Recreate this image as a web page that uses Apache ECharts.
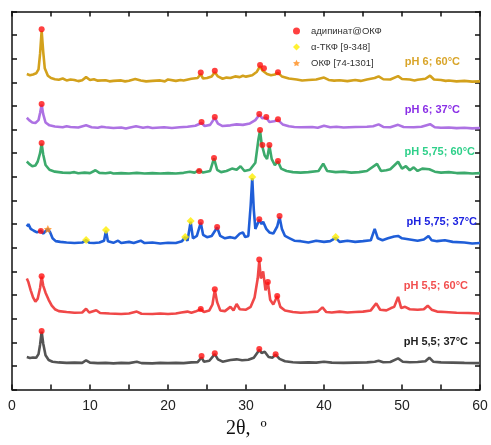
<!DOCTYPE html>
<html><head><meta charset="utf-8">
<script src="https://cdn.jsdelivr.net/npm/echarts@6/dist/echarts.min.js"></script>
<style>html,body{margin:0;padding:0;background:#fff}#c{width:491px;height:445px}</style>
</head><body><div id="c"></div>
<script>
// ---- data: [2θ, intensity (offset, a.u.)] ----
const pH6_60 = [[1.9,1335],[2.3,1330],[2.7,1333],[3.1,1338],[3.4,1355],[3.6,1420],[3.8,1518],[4.0,1430],[4.2,1360],[4.6,1328],[5.0,1318],[5.5,1313],[6,1311],[6.5,1316],[7,1308],[7.5,1312],[8,1310],[8.5,1305],[9,1309],[9.5,1322],[10,1310],[10.5,1313],[11,1307],[12,1309],[12.5,1304],[13,1306],[14,1308],[14.5,1304],[15,1307],[15.8,1314],[16.5,1308],[17.2,1304],[18,1306],[19,1308],[19.6,1304],[20,1312],[21,1306],[21.6,1310],[22,1308],[23,1315],[23.8,1318],[24.2,1335],[24.5,1316],[25,1318],[25.6,1325],[26.0,1343],[26.4,1325],[27,1315],[27.5,1320],[28,1318],[28.6,1325],[29.2,1322],[29.6,1328],[30,1324],[30.8,1330],[31.4,1345],[31.8,1368],[32.1,1350],[32.3,1355],[32.7,1335],[33.2,1330],[33.7,1333],[34.1,1340],[34.6,1325],[35.5,1316],[36.5,1312],[37.2,1308],[38,1310],[39,1312],[40,1320],[40.6,1310],[41.3,1307],[42,1309],[43,1305],[44,1310],[44.7,1306],[45.5,1312],[46.5,1318],[47,1325],[47.6,1313],[48.5,1312],[49.5,1326],[50,1314],[51,1312],[51.6,1308],[52,1311],[53,1315],[53.6,1328],[54.1,1312],[55,1310],[55.6,1306],[56,1308],[57,1304],[58,1306],[59,1303],[60,1304]];
const pH6_37 = [[1.9,1150],[2.2,1140],[2.6,1130],[3.0,1128],[3.4,1140],[3.6,1170],[3.8,1205],[4.0,1165],[4.3,1130],[4.8,1118],[5.5,1113],[6.5,1110],[7,1114],[7.5,1111],[8.5,1109],[9.5,1118],[10.2,1110],[11,1108],[11.5,1112],[12,1110],[13,1107],[14,1109],[14.6,1105],[15,1108],[15.9,1114],[16.8,1108],[17.4,1111],[18,1107],[19.5,1110],[20.5,1107],[21.5,1110],[22.5,1112],[23.5,1116],[24.3,1128],[24.7,1115],[25.4,1120],[26.0,1150],[26.4,1125],[27,1115],[28,1118],[28.8,1122],[29.6,1120],[30.5,1126],[31.2,1140],[31.7,1162],[32.1,1148],[32.6,1150],[33.0,1132],[33.6,1135],[34.1,1140],[34.7,1122],[35.5,1114],[36.2,1111],[37,1110],[38.5,1111],[39.2,1108],[40,1116],[40.8,1110],[41.6,1112],[42.5,1109],[44,1111],[45.5,1112],[46.3,1114],[47,1122],[47.6,1111],[48.5,1110],[49.5,1120],[50.2,1111],[51.5,1110],[52.5,1112],[53.6,1123],[54.2,1110],[55,1108],[56,1109],[57,1106],[58,1108],[59,1105],[60,1107]];
const pH575_60 = [[1.9,965],[2.2,955],[2.6,945],[3.0,948],[3.3,965],[3.6,1000],[3.8,1040],[4.0,995],[4.3,950],[4.8,930],[5.5,922],[6.5,918],[7.5,917],[8,920],[8.5,915],[9.3,918],[10,916],[10.7,928],[11.2,917],[12,915],[12.6,918],[13,914],[14,916],[15,914],[16,917],[17,914],[18,916],[19,914],[20,916],[21,914],[22,917],[22.8,922],[23.4,918],[24.0,928],[24.5,918],[25.4,925],[25.9,978],[26.3,930],[26.8,920],[27.5,925],[28.2,935],[28.8,930],[29.3,945],[29.8,925],[30.5,930],[31.2,960],[31.6,1060],[31.8,1095],[32.0,1040],[32.1,1032],[32.4,990],[32.7,975],[33.0,1032],[33.3,975],[33.7,950],[34.1,965],[34.5,935],[35.2,925],[36,920],[37,918],[38,920],[39.3,925],[39.9,956],[40.4,925],[41.5,920],[42.5,922],[43.5,918],[44.5,920],[45.5,925],[46.8,955],[47.3,925],[48,928],[48.5,932],[49.5,964],[50,935],[50.5,945],[51,928],[51.5,940],[52,925],[52.6,935],[53.5,932],[54.2,922],[55,918],[56,920],[57,916],[58,917],[59,914],[60,916]];
const pH575_37 = [[1.9,690],[2.1,700],[2.4,680],[2.8,672],[3.2,665],[3.7,672],[4.0,660],[4.3,670],[4.6,680],[4.9,665],[5.2,640],[5.6,628],[6.2,625],[7,622],[8,620],[9,622],[9.5,632],[9.9,621],[10.5,620],[11.2,622],[11.8,630],[12.05,672],[12.3,628],[13,621],[13.6,630],[14,620],[15,625],[15.6,620],[16.5,630],[17,620],[18,622],[19,618],[20,621],[21,620],[21.8,628],[22.2,645],[22.5,630],[22.9,710],[23.2,640],[23.7,650],[24.2,706],[24.5,655],[25,645],[25.6,650],[26.3,686],[26.7,650],[27.3,640],[28,645],[28.6,640],[29.2,660],[29.6,665],[29.9,645],[30.3,650],[30.6,780],[30.8,895],[31.0,760],[31.2,680],[31.7,718],[32.0,700],[32.2,710],[32.6,680],[33,665],[33.5,660],[34.0,690],[34.3,730],[34.6,680],[35,650],[35.6,640],[36.2,630],[37,628],[38,622],[39,630],[40,625],[40.8,628],[41.5,642],[42,625],[43,630],[44,625],[45,628],[46,632],[46.5,680],[46.9,640],[47.5,632],[48.2,640],[49,648],[49.5,650],[50,640],[51,635],[52,630],[52.8,635],[53.4,650],[53.8,632],[54.5,628],[55.5,632],[56.5,625],[58,622],[59,618],[60,620]];
const pH55_60 = [[1.9,470],[2.1,455],[2.4,420],[2.7,390],[3.0,372],[3.3,385],[3.6,430],[3.8,478],[4.0,440],[4.3,410],[4.7,380],[5.1,355],[5.5,340],[6,332],[7,328],[8,325],[9,326],[9.5,342],[9.9,326],[10.8,336],[11.3,324],[12.5,322],[14,320],[15,322],[16,330],[16.6,321],[18,320],[19,322],[20,320],[21,322],[21.7,326],[22.5,330],[23,325],[23.5,330],[24.2,340],[24.6,328],[25.3,335],[25.7,360],[26.0,422],[26.3,370],[26.7,335],[27.3,332],[28,350],[28.4,335],[28.8,362],[29.2,340],[30,338],[30.6,350],[31.1,390],[31.5,470],[31.7,545],[31.9,470],[32.2,500],[32.5,420],[32.8,455],[33.1,380],[33.5,360],[34.0,395],[34.4,350],[35,335],[36,328],[37,325],[38,327],[39.2,330],[39.8,348],[40.3,328],[41,326],[42,330],[43,326],[44,328],[45,330],[46,335],[46.7,365],[47.2,338],[48,335],[48.6,345],[49.0,350],[49.5,392],[49.9,345],[50.4,350],[51,340],[52,338],[52.8,340],[53.3,355],[53.8,338],[54.5,330],[55.5,328],[57,325],[58.5,324],[60,322]];
const pH55_37 = [[1.9,138],[2.3,134],[2.7,136],[3.1,135],[3.4,150],[3.6,190],[3.8,245],[4.0,195],[4.3,145],[4.7,125],[5.2,118],[6,115],[7,113],[8,114],[9,113],[9.5,124],[10,114],[11,112],[12,113],[13,111],[14,113],[15,112],[16,118],[16.6,112],[18,111],[19,113],[20,112],[21,113],[22,112],[23,115],[23.8,116],[24.3,136],[24.6,118],[25.3,122],[26.0,150],[26.4,128],[27,118],[28,125],[28.8,128],[29.5,124],[30.3,126],[31.0,135],[31.7,168],[32.0,155],[32.4,160],[32.9,138],[33.4,135],[33.8,148],[34.3,130],[35,120],[36,116],[37,114],[38,115],[39,114],[40,118],[41,114],[42.5,113],[44,114],[45.5,115],[46.5,118],[47,122],[47.6,116],[48.5,117],[49.5,132],[50.1,118],[51,116],[52,117],[53,120],[53.5,135],[54,118],[55,115],[56.5,114],[58,113],[60,112]];

const adipinatMarks = [[3.8,1525],[24.2,1341],[26.0,1349],[31.8,1373],[32.3,1360],[34.1,1343],
 [3.8,1208],[24.3,1132],[26.0,1153],[31.7,1166],[32.6,1153],[34.1,1144],
 [3.8,1043],[24.0,925],[25.9,980],[31.8,1098],[32.1,1035],[33.0,1035],[34.1,967],
 [3.7,671],[24.2,709],[26.3,688],[31.7,721],[34.3,734],
 [3.8,480],[24.2,341],[26.0,425],[31.7,550],[32.8,455],[34.0,396],
 [3.8,248],[24.3,142],[26.0,154],[31.7,172],[33.8,150]];
const aTCPMarks = [[9.5,633],[12.05,675],[22.2,646],[22.9,713],[30.8,899],[41.5,646]];
const OCPMarks = [[4.6,679]];

const seriesNames = ['pH 6; 60°C','pH 6; 37°C','pH 5,75; 60°C','pH 5,75; 37°C','pH 5,5; 60°C','pH 5,5; 37°C'];
const xTicks = [0,10,20,30,40,50,60];
const legendNames = ['адипинат@ОКФ','α-ТКФ [9-348]','ОКФ [74-1301]'];

// ---- styles ----
const lineColors = ['#d3a11c','#ad72e3','#3caa6c','#1f5ed8','#f04848','#545454'];
const labelColors = ['#d9a52a','#8a2fe6','#2fd08a','#1c22e0','#f24f4f','#1e1e1e'];
const labelPos = [[460,63],[460,111],[475,153],[477,223],[468,287],[468,343]];
const datasets = [pH6_60,pH6_37,pH575_60,pH575_37,pH55_60,pH55_37];

const chart = echarts.init(document.getElementById('c'));
const axisCommon = {
  axisLine:{show:true,onZero:false,lineStyle:{color:'#111',width:1.5}},
  axisTick:{show:true,inside:true,length:5,lineStyle:{color:'#111',width:1.5}},
  splitLine:{show:false}
};
const series = datasets.map((d,i)=>({
  type:'line', name:seriesNames[i], data:d, showSymbol:false, symbol:'none',
  lineStyle:{color:lineColors[i],width:2.6}, z:2, silent:true, animation:false
}));
series.push({type:'scatter',name:legendNames[0],data:adipinatMarks,symbol:'circle',symbolSize:6,itemStyle:{color:'#ff1010'},z:5});
series.push({type:'scatter',name:legendNames[1],data:aTCPMarks,symbol:'diamond',symbolSize:8,itemStyle:{color:'#ffee00'},z:5});
series.push({type:'scatter',name:legendNames[2],data:OCPMarks,symbol:'path://M0,-10 L2.9,-4 L9.5,-3.1 L4.8,1.5 L5.9,8.1 L0,5 L-5.9,8.1 L-4.8,1.5 L-9.5,-3.1 L-2.9,-4 Z',symbolSize:8,itemStyle:{color:'#ff8c1a'},z:5});

chart.setOption({
  animation:false,
  backgroundColor:'#fff',
  grid:{left:12,right:11,top:11.4,bottom:55.4,containLabel:false},
  legend:{show:true,orient:'vertical',left:288,top:21,itemGap:6,itemWidth:7,itemHeight:7,
    data:legendNames, textStyle:{fontSize:9.5,color:'#333',fontFamily:'Liberation Sans, Arial',padding:[0,0,0,6]}, selectedMode:false},
  xAxis:[
    Object.assign({type:'value',min:0,max:60,interval:5,position:'bottom',
      axisLabel:{show:true,margin:10,fontSize:14,color:'#222',fontFamily:'Liberation Sans, Arial',
        formatter:v=>xTicks.includes(v)?String(v):''}},axisCommon),
    Object.assign({type:'value',min:0,max:60,interval:5,position:'top',axisLabel:{show:false}},axisCommon)
  ],
  yAxis:[
    Object.assign({type:'value',min:0,max:1600,interval:100,position:'left',axisLabel:{show:false}},axisCommon),
    Object.assign({type:'value',min:0,max:1600,interval:100,position:'right',axisLabel:{show:false}},axisCommon)
  ],
  series:series,
  graphic:seriesNames.map((n,i)=>({
    type:'text', right:491-labelPos[i][0], top:labelPos[i][1]-7,
    style:{text:n,fill:labelColors[i],font:'bold 11px "Liberation Sans", Arial'}, z:10
  })).concat([{
    type:'text', left:226, top:419,
    style:{text:'2θ,  º',fill:'#111',font:'20px "Liberation Serif", "Times New Roman", serif'}
  }])
});
</script></body></html>
